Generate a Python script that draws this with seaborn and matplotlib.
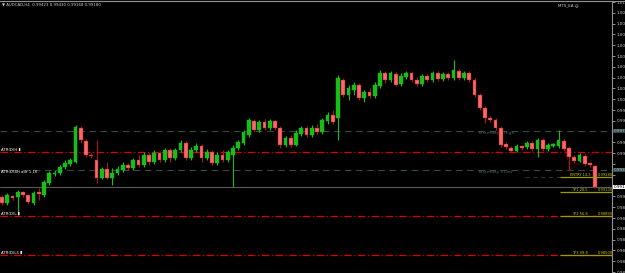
import numpy as np
import pandas as pd
import seaborn as sns
import matplotlib
matplotlib.use("Agg")
import matplotlib.pyplot as plt

opens = [0.9908,0.9902,0.9909,0.9908,0.9913,0.9910,0.9902,0.9913,0.9910,0.9922,
         0.9931,0.9932,0.9938,0.9941,0.9943,0.9977,0.9964,0.9950,0.9945,0.9927,
         0.9936,0.9927,0.9932,0.9935,0.9940,0.9937,0.9945,0.9940,0.9950,0.9943,
         0.9952,0.9945,0.9955,0.9947,0.9955,0.9962,0.9947,0.9955,0.9959,0.9947,
         0.9953,0.9942,0.9950,0.9945,0.9950,0.9957,0.9962,0.9970,0.9984,0.9975,
         0.9983,0.9977,0.9984,0.9977,0.9960,0.9967,0.9960,0.9971,0.9977,0.9970,
         0.9977,0.9973,0.9984,0.9990,0.9987,1.0025,1.0010,1.0015,1.0020,1.0007,
         1.0013,1.0009,1.0019,1.0032,1.0025,1.0031,1.0021,1.0028,1.0032,1.0025,
         1.0021,1.0029,1.0025,1.0032,1.0026,1.0031,1.0027,1.0034,1.0027,1.0032,
         1.0025,1.0010,0.9997,0.9987,0.9985,0.9977,0.9961,0.9957,0.9954,0.9959,
         0.9958,0.9962,0.9956,0.9965,0.9956,0.9959,0.9959,0.9964,0.9957,0.9948,
         0.9944,0.9949,0.9942,0.9939]
highs = [0.9910,0.9912,0.9910,0.9915,0.9914,0.9911,0.9914,0.9917,0.9925,0.9934,
         0.9935,0.9940,0.9945,0.9947,0.9980,0.9979,0.9966,0.9952,0.9965,0.9938,
         0.9943,0.9937,0.9939,0.9943,0.9942,0.9947,0.9950,0.9953,0.9952,0.9955,
         0.9954,0.9957,0.9957,0.9957,0.9965,0.9964,0.9958,0.9962,0.9961,0.9956,
         0.9955,0.9953,0.9955,0.9955,0.9960,0.9965,0.9975,0.9987,0.9986,0.9985,
         0.9986,0.9986,0.9985,0.9979,0.9969,0.9970,0.9975,0.9979,0.9979,0.9980,
         0.9981,0.9987,0.9993,0.9995,1.0030,1.0027,1.0020,1.0023,1.0022,1.0015,
         1.0017,1.0023,1.0035,1.0034,1.0034,1.0033,1.0032,1.0034,1.0034,1.0028,
         1.0031,1.0031,1.0034,1.0034,1.0033,1.0033,1.0045,1.0036,1.0034,1.0034,
         1.0027,1.0012,0.9999,0.9989,0.9987,0.9979,0.9963,0.9959,0.9961,0.9960,
         0.9964,0.9964,0.9967,0.9967,0.9962,0.9962,0.9975,0.9966,0.9959,0.9950,
         0.9952,0.9951,0.9943,0.9940]
lows = [0.9900,0.9900,0.9905,0.9890,0.9908,0.9901,0.9900,0.9905,0.9908,0.9920,
        0.9929,0.9930,0.9936,0.9939,0.9942,0.9962,0.9948,0.9947,0.9922,0.9926,
        0.9926,0.9920,0.9930,0.9933,0.9935,0.9935,0.9938,0.9938,0.9940,0.9941,
        0.9943,0.9943,0.9943,0.9945,0.9953,0.9945,0.9945,0.9953,0.9943,0.9945,
        0.9940,0.9940,0.9943,0.9943,0.9918,0.9955,0.9960,0.9968,0.9973,0.9973,
        0.9975,0.9975,0.9975,0.9957,0.9958,0.9958,0.9959,0.9969,0.9968,0.9968,
        0.9971,0.9971,0.9981,0.9981,0.9965,1.0008,1.0005,1.0010,1.0005,1.0003,
        1.0007,1.0007,1.0017,1.0022,1.0023,1.0019,1.0019,1.0026,1.0023,1.0019,
        1.0019,1.0023,1.0023,1.0024,1.0024,1.0025,1.0025,1.0025,1.0025,1.0023,
        1.0008,0.9995,0.9982,0.9983,0.9975,0.9958,0.9956,0.9953,0.9953,0.9955,
        0.9956,0.9954,0.9948,0.9954,0.9954,0.9958,0.9957,0.9954,0.9935,0.9942,
        0.9943,0.9939,0.9938,0.9917]
closes = [0.9902,0.9910,0.9907,0.9913,0.9910,0.9903,0.9912,0.9911,0.9923,0.9932,
          0.9932,0.9938,0.9942,0.9945,0.9978,0.9965,0.9950,0.9949,0.9927,0.9936,
          0.9927,0.9932,0.9936,0.9940,0.9937,0.9945,0.9940,0.9950,0.9943,0.9952,
          0.9945,0.9955,0.9947,0.9955,0.9962,0.9947,0.9955,0.9959,0.9947,0.9953,
          0.9942,0.9950,0.9945,0.9953,0.9957,0.9963,0.9973,0.9985,0.9975,0.9983,
          0.9977,0.9984,0.9977,0.9960,0.9967,0.9960,0.9972,0.9977,0.9970,0.9977,
          0.9973,0.9985,0.9990,0.9983,1.0027,1.0010,1.0017,1.0020,1.0007,1.0013,
          1.0009,1.0020,1.0032,1.0025,1.0032,1.0020,1.0029,1.0032,1.0025,1.0021,
          1.0029,1.0025,1.0032,1.0026,1.0031,1.0027,1.0035,1.0027,1.0032,1.0025,
          1.0010,0.9997,0.9987,0.9985,0.9977,0.9960,0.9958,0.9954,0.9959,0.9957,
          0.9962,0.9956,0.9965,0.9956,0.9960,0.9961,0.9965,0.9956,0.9948,0.9944,
          0.9950,0.9941,0.9940,0.9918]

atr_levels = [0.9953, 0.9889, 0.9850]
atr_labels = ["ATR(D)H ", "ATR(D)L ", "ATR(D)L5 "]
yday_high, yday_low = 0.9974, 0.9935
atr_mid_label = "ATR(D)4H adr 1.16"
trade_levels = [0.9928, 0.9913, 0.9889, 0.9850]
trade_labels = ["ENTRY 14.3", "TP1 28.5", "TP2 56.8", "TP3 99.8"]
header = "\u25bc AUDCAD,H4  0.99423 0.99430 0.99168 0.99180"
ea_label = "MTS_EA \u263a"

df = pd.DataFrame({"o": opens, "h": highs, "l": lows, "c": closes})
df["i"] = np.arange(len(df))
df["up"] = df["c"] >= df["o"]

sns.set_style("dark", {"axes.facecolor": "black", "figure.facecolor": "black"})
plt.rcParams["font.family"] = ["DejaVu Sans"]

W, H = 625, 273
fig = plt.figure(figsize=(W / 100, H / 100), dpi=100, facecolor="black")
ax = fig.add_axes([0, 0, 612 / W, 272 / H])
ax.set_facecolor("black")

green = "#16be16"
red_body = "#f86a6a"
red_wick = "#b01515"

up = df[df["up"]]
dn = df[~df["up"]]
ax.vlines(up["i"], up["l"], up["h"], color=green, lw=0.8, zorder=3)
ax.vlines(dn["i"], dn["l"], dn["h"], color=red_wick, lw=0.8, zorder=3)
ax.bar(up["i"], (up["c"] - up["o"]).clip(lower=0.00004), bottom=up["o"], width=0.72,
       color=green, edgecolor=green, lw=0.3, zorder=4)
ax.bar(dn["i"], (dn["o"] - dn["c"]).clip(lower=0.00004), bottom=dn["c"], width=0.72,
       color=red_body, edgecolor=red_wick, lw=0.3, zorder=4)

n = len(df)
sp = 5.25
x0 = -2 / sp
x1 = 610 / sp
ax.set_xlim(x0, x1)
ytop = 1.0104
ybot = 0.9832
ax.set_ylim(ybot, ytop)

# level lines
for lv in atr_levels:
    ax.axhline(lv, color="#d80000", lw=0.9, ls=(0, (6, 2, 1, 2)), zorder=2)
for lv in (yday_high, yday_low):
    ax.axhline(lv, color="#344846", lw=0.8, ls=(0, (6, 4)), zorder=2)
ax.axhline(closes[-1], color="#5a5a5a", lw=0.8, zorder=2)

xs = (560 - 2) / sp
for lv, lab in zip(trade_levels, trade_labels):
    ax.hlines(lv, xs, x1, color="#9c9c00", lw=0.9, zorder=5)
    ax.text((580 - 2) / sp, lv + 0.00003, lab, color="#c8c800", fontsize=2.6,
            va="bottom", ha="center", zorder=6)
    ax.text((605 - 2) / sp, lv + 0.00003, f"{lv:.5f}", color="#c8c800", fontsize=2.6,
            va="bottom", ha="center", zorder=6)
ax.hlines(trade_levels[0], (525 - 2) / sp, xs, color="#303030", lw=0.8, ls=(0, (4, 3)))

# trade diagonal dashed lines
ax.plot([(565 - 2) / sp, (570 - 2) / sp, (598 - 2) / sp], [0.9955, 0.9935, 0.9955],
        color="#7a0000", lw=0.6, ls=(0, (3, 2)), zorder=2)

# texts
ax.text((478 - 2) / sp, yday_high - 0.00002, "Yesterday's High", color="#4c6462",
        fontsize=3.2, va="top", ha="left")
ax.text((478 - 2) / sp, yday_low - 0.00002, "Yesterday's Low", color="#4c6462",
        fontsize=3.2, va="top", ha="left")
for lv, lab in zip(atr_levels, atr_labels):
    ax.text(x0 + 0.2, lv + 0.00003, lab + "\u25ae", color="white", fontsize=2.8,
            va="bottom", ha="left")
ax.text(x0 + 0.2, 0.9931, atr_mid_label, color="white", fontsize=2.8,
        va="bottom", ha="left")

fig.text(2 / W, 1 - 4 / H, header, color="#d0d0d0", fontsize=2.8, va="center", ha="left")
fig.text(558 / W, 1 - 5 / H, ea_label, color="#d0d0d0", fontsize=2.8, va="center", ha="left")

# axis ticks; skip labels hidden under the price boxes
boxes = [closes[-1], yday_high, yday_low]
ticks = [ytop - 0.0001 - k * 0.00108 for k in range(26)]
ticks = [t for t in ticks if t > ybot]
ax.set_yticks(ticks)
ax.set_yticklabels([("" if min(abs(t - b) for b in boxes) < 0.0006 else f"{t:.5f}")
                    for t in ticks])
ax.yaxis.tick_right()
ax.tick_params(axis="y", colors="#c8c8c8", labelsize=3.0, length=2, width=0.5, pad=1.2,
               labelcolor="#d0d0d0")
ax.set_xticks([])
ax.grid(False)
for s in ("left", "bottom"):
    ax.spines[s].set_visible(False)
for s in ("right", "top"):
    ax.spines[s].set_visible(True)
    ax.spines[s].set_color("#909090")
    ax.spines[s].set_linewidth(0.8)

fig.add_artist(plt.Line2D([0, 1], [1 - 0.5 / H, 1 - 0.5 / H], color="#909090", lw=0.8))

# price label boxes on the axis
ax.text(x1 + 0.3, closes[-1], f"{closes[-1]:.5f}", color="black", fontsize=3.0,
        va="center", ha="left", clip_on=False, zorder=10,
        bbox=dict(boxstyle="square,pad=0.1", fc="white", ec="none"))
for lv in (yday_high, yday_low):
    ax.text(x1 + 0.3, lv, f"{lv:.5f}", color="#c0c0c0", fontsize=3.0,
            va="center", ha="left", clip_on=False, zorder=10,
            bbox=dict(boxstyle="square,pad=0.1", fc="#2c4a48", ec="none"))

fig.savefig("out.png", dpi=100, facecolor="black")
